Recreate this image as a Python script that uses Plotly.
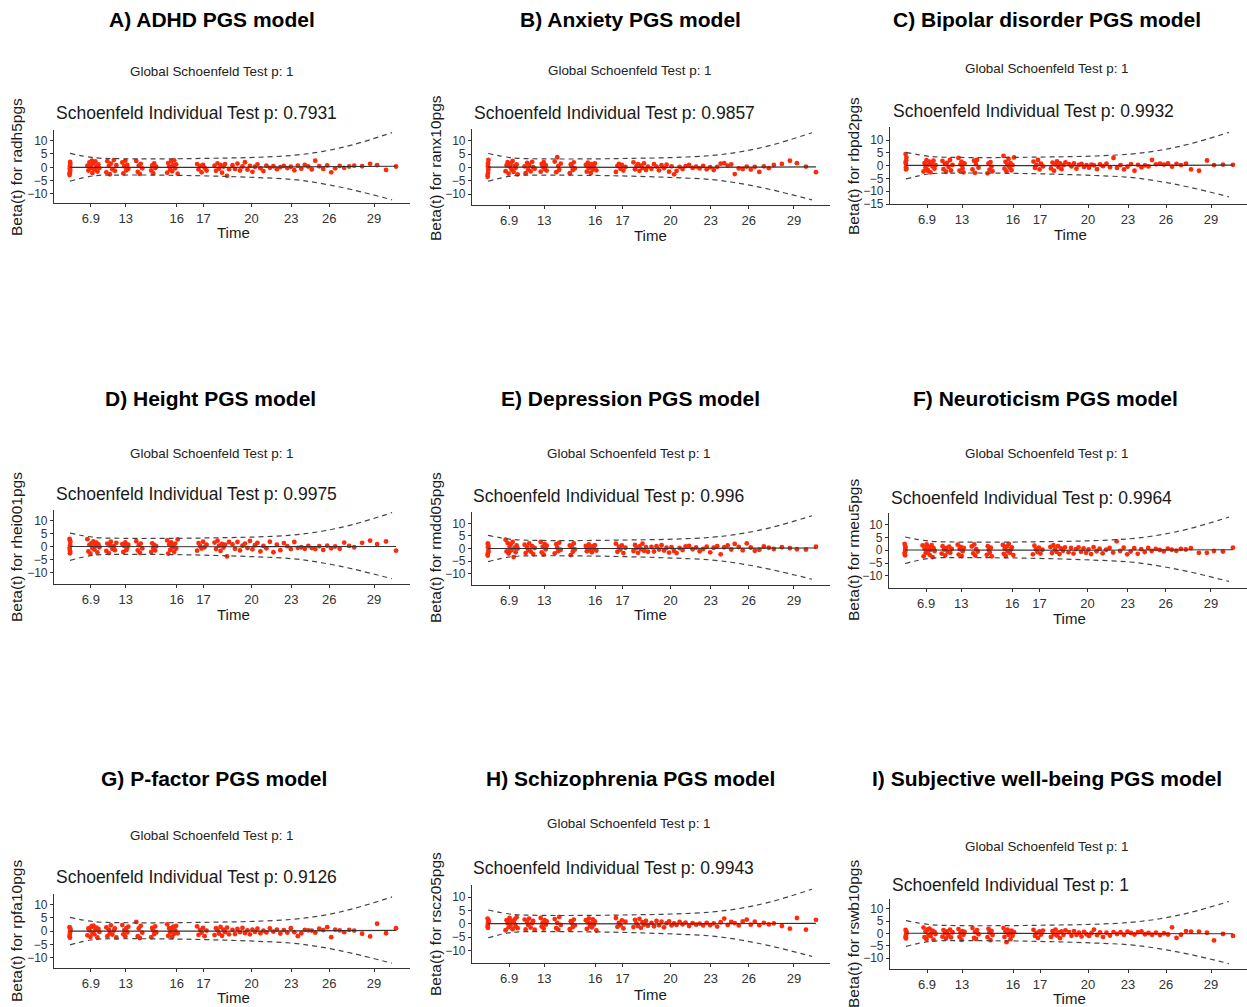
import plotly.graph_objects as go

W, H = 1247, 1007
H_MAP = 1000  # vertical pixel scale used to place items (rendered paper height)

# ---- shared axis data (transformed time scale used by the x axis) ----
tick_u = [37, 72, 123, 150, 198, 238, 276, 321]
tick_labels = ["6.9", "13", "16", "17", "20", "23", "26", "29"]

time_u = [
    15.6, 16.0, 16.4, 15.8, 16.2, 16.0, 15.7, 16.3,
    33.5, 34.5, 35.5, 36.5, 37.5, 38.5, 39.5, 40.5, 41.5, 42.5, 43.5, 44.5, 45.5, 38.0,
    52.5, 53.5, 55.0, 56.0, 57.0, 58.5, 60.0, 61.0, 62.5,
    68.5, 69.5, 70.5, 71.5, 72.5, 73.5, 74.5,
    82.5, 84.0, 85.0, 86.0, 87.0, 88.5,
    97.5, 98.5, 99.5, 100.5, 101.5, 102.5,
    113.5, 114.5, 115.5, 116.5, 117.5, 118.5, 119.5, 120.5, 121.5, 122.5, 124.0,
    143.5, 145.0, 146.5, 148.0, 149.5, 151.0, 153.0,
    161.0, 162.5, 164.0, 165.5, 167.0, 168.5, 170.0, 171.5, 173.5, 175.5,
    179, 181.5, 184, 186.5, 189, 191.5, 194, 196.5, 199, 201.5, 204, 207, 210, 213,
    216.5, 220, 223.5, 227, 230.5, 234, 237.5, 241, 244.5, 248, 251.5, 255, 258.5,
    262, 266, 270, 274, 278, 282, 286.5, 291, 296, 301, 309, 317, 324, 333, 343,
]

# confidence band (dashed) and fitted beta(t) line
ci_u = [16, 40, 70, 120, 160, 200, 240, 270, 300, 339]
ci_upper = [5.2, 3.6, 3.2, 3.2, 3.4, 3.7, 4.5, 6.0, 8.5, 13.0]
ci_lower = [-5.2, -3.2, -2.9, -3.0, -3.3, -3.8, -4.6, -6.2, -8.5, -12.2]
beta_u = [16, 180, 343]

# ---- per-panel residual values ----
res_radh5pgs = [
    -2.9, -1.8, 1.2, -0.6, 2.0, 0.4, -2.2, -1.0,
    0.6, -1.2, 1.8, -0.4, 0.9, -2.1, 1.5, -0.8, 2.2, 0.2, -1.6, 1.1, -0.3, 2.5,
    -1.9, 2.3, 0.5, -2.6, 1.4, -0.7, 2.7, -1.3, 0.8,
    1.8, -2.3, 0.4, 2.5, -1.1, 0.9, -0.5,
    2.4, -1.7, 0.6, -2.5, 1.3, -0.4,
    -1.2, 0.7, -2.2, 1.5, -0.3, 0.2,
    -2.0, 1.6, 0.3, -0.9, 2.3, -1.5, 0.8, 2.6, -0.4, 1.1, -2.4,
    1.2, -0.8, 0.5, -1.9, 0.9, -0.2, -1.2,
    0.6, -1.3, 1.5, -0.5, 0.9, -2.0, 0.3, 1.2, -3.2, -0.7,
    0.8, -0.6, 1.4, -1.2, 0.3, 1.9, -0.9, 0.5, -1.7, 0.2, 1.1, -0.4, -1.4, 0.6,
    -0.2, 0.4, -0.7, 0.1, 0.5, -0.3, 0.2, -1.1, 0.6, -0.5, 0.9, 0.3, -0.8,
    2.5, 0.4, -0.6, 0.7, -1.9, -0.4, 0.5, -0.2, 0.3, 0.6, 0.4, 1.3, 0.8, -1.0, 0.3,
]
res_ranx10pgs = [
    -3.5, -2.1, 2.8, 0.5, -0.9, 1.6, -2.8, 0.0,
    -1.4, 0.8, 2.0, -2.3, 0.3, 1.4, -0.9, 2.4, -1.7, 0.6, -0.2, 1.1, -2.6, 0.9,
    0.4, -2.2, 1.7, -0.8, 0.9, -1.5, 2.1, 0.1, -0.5,
    -1.6, 1.3, 0.2, 2.0, -0.7, 0.8, -1.2,
    2.2, -1.8, 3.8, 0.5, -0.9, 1.4,
    -2.2, 1.1, 0.3, -1.0, 1.9, -0.4,
    0.9, -1.6, 1.8, -0.3, 0.5, -2.1, 1.2, -0.8, 0.2, 1.5, -1.1,
    -1.7, 0.6, 1.3, -0.5, 0.9, -1.2, 0.2,
    1.9, -0.7, 0.4, 1.2, -1.3, 0.7, -0.2, 1.5, -1.0, 0.3,
    -0.5, 1.2, 0.3, -1.1, 0.8, -0.3, 1.0, -1.6, 0.4, -2.6, -1.3, 0.2, -0.6, 0.5,
    0.9, -0.2, 0.3, -0.4, 0.6, -0.7, 0.1, -1.0, 0.2, 1.4, 1.6, 0.7, 1.1,
    -2.5, -0.4, -0.6, 0.3, -0.8, 0.2, -1.7, 0.4, -0.3, 0.9, 1.3, 2.5, 1.6, 0.3, -1.8,
]
res_rbpd2pgs = [
    4.5, -1.5, 3.2, 0.8, 2.0, -0.6, 1.4, -1.2,
    -2.3, 1.0, -0.8, 2.1, -1.7, 0.4, 1.6, -2.6, 0.7, -0.3, 1.9, -1.2, 0.2, -2.0,
    1.8, -1.4, 0.6, -2.4, 1.1, -0.5, 2.2, -1.9, 0.3,
    3.0, -2.0, 0.5, 1.6, -1.0, -2.6, 0.9,
    -1.5, 1.9, -2.8, 0.6, 2.2, -0.8,
    -3.0, 0.9, -1.6, 1.4, -0.4, -2.2,
    3.8, -1.2, 1.5, -2.3, 0.4, 2.6, -0.7, 1.0, -1.8, 0.2, 3.2,
    1.6, -0.9, 0.3, 2.2, -1.5, 0.8, -0.3,
    -1.1, 1.2, -2.0, 0.5, 1.7, -0.6, 0.9, -1.4, 0.2, 1.3,
    0.6, -0.3, 0.9, -1.2, 0.3, 0.7, -0.5, 0.2, -0.8, 0.4, 0.1, -1.4, 0.5, -0.2,
    0.8, -0.6, 3.0, -0.9, 0.2, -1.5, -0.4, 0.6, -2.0, 0.3, -0.7, 0.1, -0.3,
    2.2, 0.5, 0.8, 0.4, 0.9, -0.4, 0.7, 0.2, 0.8, -1.5, -2.0, 2.0, 0.2, 0.4, 0.3,
]
res_rhei001pgs = [
    3.0, -2.5, 1.8, -1.2, 0.6, 2.4, -0.4, -1.9,
    2.9, -1.8, 0.7, -2.6, 1.3, -0.5, 2.0, -1.1, 0.3, 1.6, -2.2, 0.9, -0.2, 1.2,
    -1.6, 1.2, -2.4, 0.5, 1.9, -0.8, 0.2, -1.3, 1.5,
    1.0, -2.0, 0.3, 1.7, -1.3, -0.4, 0.8,
    2.1, -1.4, 0.6, -2.3, 1.2, -0.6,
    -2.0, 1.3, -0.5, 0.7, -1.4, 0.2,
    2.4, -2.6, 0.9, -1.2, 1.7, -0.3, 0.5, -2.0, 1.2, -0.7, 2.8,
    -1.5, 1.4, 0.3, -0.7, 1.9, -0.2, 0.8,
    1.6, -0.9, 2.3, 0.4, -1.6, 1.1, -0.3, 0.8, -3.7, 1.8,
    0.9, -0.8, 1.8, -1.4, 0.4, 1.2, -0.5, 2.2, -1.0, 0.6, 1.5, -1.8, 0.3, -0.6,
    1.9, -2.1, 0.8, -1.3, 1.4, 0.2, -0.9, 1.8, -0.4, -0.2, -0.8, 0.3, -0.5,
    -0.9, 0.2, -1.2, 0.4, -0.6, 0.1, -0.8, 1.6, 0.3, -0.2, 1.5, 2.3, 1.0, 2.0, -1.5,
]
res_rmdd05pgs = [
    -2.2, 1.4, -0.8, 2.0, -1.6, 0.5, -2.8, 1.0,
    3.5, -1.2, 2.2, -2.0, 0.8, 1.6, -0.6, 2.6, -3.4, 0.3, -1.5, 1.2, 0.0, -0.9,
    1.5, -1.8, 0.4, -0.6, 2.0, -1.2, 0.9, -2.2, 0.2,
    2.6, -1.5, 0.7, -2.4, 1.8, -0.3, 1.1,
    -1.9, 1.7, 0.3, -1.0, 2.3, -0.5,
    1.2, -2.6, 0.5, -1.3, 2.0, -0.4,
    1.0, -1.1, 0.4, 1.6, -0.6, 0.2, -1.5, 0.9, -0.2, 1.3, -0.8,
    1.9, -1.3, 0.7, -0.4, 1.2, -1.8, 0.3,
    -1.0, 1.4, 0.2, -1.7, 0.8, -0.3, 1.9, -0.9, 0.5, -1.3,
    0.6, -1.2, 0.9, -0.4, 1.3, -0.8, 0.3, -1.6, 0.5, -1.0, -1.8, 0.2, -0.6, 0.8,
    1.0, -0.3, 0.4, -1.1, -0.2, 0.7, -1.5, 0.3, 0.9, -2.3, 0.5, 1.2, -0.4,
    1.8, 0.6, -0.7, 2.0, 0.4, -0.9, -0.5, 0.8, 0.3, -0.2, 0.5, 0.1, -0.3, -0.4, 0.7,
]
res_rmeu5pgs = [
    2.5, -2.0, 1.2, -0.8, 0.4, 1.8, -1.4, -0.2,
    1.9, -2.4, 0.6, -1.1, 2.3, -0.5, 1.3, -1.8, 0.2, 2.0, -2.7, 0.8, -0.3, 1.0,
    -1.3, 1.6, 0.3, -2.0, 0.9, -0.6, 1.4, -1.0, 0.5,
    2.2, -1.7, 0.5, 1.3, -2.3, -0.4, 0.9,
    1.5, -1.2, 2.3, -2.1, 0.4, -0.5,
    -1.8, 1.6, 0.2, -0.9, 1.0, -2.4,
    2.1, -1.4, 0.6, -2.3, 1.5, -0.4, 2.5, -1.0, 0.3, 1.1, -1.9,
    -1.6, 1.8, 0.4, -0.7, 1.0, -1.3, 0.2,
    1.3, -1.1, 2.0, 0.3, -0.6, 1.6, -1.5, 0.7, -0.2, 1.1,
    -0.8, 0.9, -1.3, 0.4, 1.1, -0.6, 0.7, -1.0, 0.3, -1.5, 1.2, -0.4, 0.6, -1.2,
    0.2, 0.9, -0.9, 3.5, -0.3, 1.0, -1.6, -0.5, 0.8, -1.4, 0.4, -0.7, 0.9,
    -0.3, 0.5, 0.1, -0.4, 0.6, 0.2, -0.2, 0.5, 0.3, 0.8, -1.0, -1.0, -0.3, -0.5, 1.0,
]
res_rpfa10pgs = [
    1.5, -2.5, 0.6, -1.4, 1.0, -0.6, -2.0, 0.2,
    -1.6, 1.0, 0.3, -2.2, 1.6, -0.7, 2.1, -1.2, 0.5, 1.3, -2.4, 0.8, -0.3, 1.9,
    1.4, -1.9, 0.6, -0.8, 2.2, -1.3, 0.2, 1.0, -2.4,
    2.3, -1.2, 0.4, -2.0, 1.1, -0.5, 1.7,
    3.5, -1.9, 1.0, -2.6, 2.0, -0.6,
    -2.3, 1.2, 0.3, -1.1, 1.8, -0.5,
    2.6, -1.8, 1.1, -0.5, 0.7, -2.2, 1.7, -1.0, 0.3, 2.0, -0.8,
    1.8, -1.4, 0.5, -0.6, 1.2, -1.9, 0.2,
    -1.5, 1.1, 0.3, -0.9, 1.6, -1.8, 0.6, -0.4, 1.3, -1.2,
    0.5, -1.1, 0.8, -0.4, 1.2, -0.7, 0.3, -1.2, 0.6, -0.3, 0.9, -0.8, 0.2, -0.5,
    1.0, -0.2, 0.6, -0.9, 0.4, -0.6, 1.1, -0.4, -1.9, -0.8, 0.5, 0.3, 0.2,
    -0.6, 0.9, 0.4, 1.5, -2.3, 0.6, 0.3, -0.4, 0.5, 0.2, -1.0, -2.0, 2.8, -0.8, 1.1,
]
res_rscz05pgs = [
    2.0, -1.5, 0.8, -0.6, 1.5, 0.2, -1.2, 1.0,
    -2.4, 1.4, 0.3, -1.3, 2.2, -0.6, 1.0, -2.0, 0.6, 1.7, -0.9, 2.5, -1.6, 0.1,
    1.6, -2.1, 0.7, -0.4, 2.0, -1.4, 0.3, 1.1, -2.2,
    2.2, -1.0, 0.5, -1.8, 1.4, -0.3, 0.9,
    1.8, -1.6, 0.4, -2.2, 2.6, -0.4,
    -2.0, 1.0, 0.3, -1.2, 1.6, -0.6,
    1.4, -1.9, 0.6, 2.1, -0.8, 0.2, -1.3, 1.7, -0.3, 0.9, -2.5,
    2.2, -1.1, 0.4, -0.5, 1.3, -1.7, 0.8,
    -1.2, 1.5, 0.2, -0.8, 1.9, -1.5, 0.6, -0.3, 1.1, -0.7,
    0.4, -0.9, 1.1, -0.5, 0.8, -1.3, 0.3, 0.9, -0.6, 0.2, -0.4, 0.7, -0.2, 0.5,
    -0.8, 0.3, -0.3, 0.1, -0.6, 0.4, -0.5, 0.2, -1.0, 0.6, 2.0, -0.4, 0.7,
    0.3, -0.6, 0.9, 1.6, -0.3, 0.8, -0.5, 0.4, -0.2, 0.2, -0.8, -1.8, 2.2, -2.2, 1.5,
]
res_rswb10pgs = [
    1.5, -2.0, 0.6, -1.2, 0.9, -0.5, -1.6, 0.2,
    2.4, -1.5, 0.8, -2.3, 1.5, -0.6, 2.0, -1.1, 0.3, 1.2, -2.5, 0.7, -0.2, 1.7,
    -1.3, 1.4, 0.2, -2.0, 0.9, -0.7, 1.6, -1.6, 0.5,
    1.8, -1.4, 0.3, -2.6, 1.0, -0.5, 0.7,
    2.2, -1.8, 0.6, -2.2, 1.4, -0.3,
    -1.5, 1.9, 0.4, -2.7, 1.1, -0.6,
    2.2, -1.4, 0.8, -3.5, 1.6, -0.5, 0.3, -2.3, 1.2, -0.9, 0.5,
    1.5, -1.0, 0.2, -1.8, 0.9, -0.4, 1.2,
    -1.4, 1.0, -0.3, 1.6, -0.8, 0.4, -1.9, 0.9, -0.5, 1.3,
    0.5, -0.9, 1.0, -0.5, 0.3, -1.2, 0.7, -0.3, -1.0, 0.2, 1.6, -0.6, 0.4, -1.4,
    0.3, -0.8, 0.6, -0.2, 0.5, -0.5, 0.8, 0.2, -0.4, 0.6, 0.9, -0.3, 0.2,
    -0.5, 0.3, -0.6, 0.1, -0.4, 2.5, -1.8, -0.5, 1.0, 0.8, 0.8, 0.3, -2.8, -0.2, -1.0,
]

panel_titles = [
    "A) ADHD PGS model", "B) Anxiety PGS model", "C) Bipolar disorder PGS model",
    "D) Height PGS model", "E) Depression PGS model", "F) Neuroticism PGS model",
    "G) P-factor PGS model", "H) Schizophrenia PGS model", "I) Subjective well-being PGS model",
]
variables = ["radh5pgs", "ranx10pgs", "rbpd2pgs", "rhei001pgs", "rmdd05pgs",
             "rmeu5pgs", "rpfa10pgs", "rscz05pgs", "rswb10pgs"]
individual_p = ["0.7931", "0.9857", "0.9932", "0.9975", "0.996",
                "0.9964", "0.9126", "0.9943", "1"]
global_p = ["1"] * 9
residuals = [res_radh5pgs, res_ranx10pgs, res_rbpd2pgs, res_rhei001pgs, res_rmdd05pgs,
             res_rmeu5pgs, res_rpfa10pgs, res_rscz05pgs, res_rswb10pgs]
beta_vals = [
    [0.0, 0.0, 0.4], [0.1, 0.0, 0.2], [0.1, 0.0, 0.2],
    [0.1, 0.0, 0.1], [0.0, 0.0, 0.2], [0.1, 0.0, 0.2],
    [0.0, 0.0, 0.3], [0.1, 0.0, 0.2], [0.1, 0.0, -0.1],
]
y_ranges = [
    [-13.4, 14.0], [-14.1, 14.4], [-15.0, 15.1],
    [-14.2, 14.0], [-14.5, 14.5], [-14.8, 14.6],
    [-14.0, 14.1], [-14.7, 14.6], [-14.4, 14.0],
]
y_ticks = [[-10, -5, 0, 5, 10]] * 2 + [[-15, -10, -5, 0, 5, 10]] + [[-10, -5, 0, 5, 10]] * 6

# ---- layout geometry (pixels) ----
# plot box: x0, x1, ytop, ybottom
boxes = [
    (54, 410, 130, 203), (472, 830, 129, 205), (890, 1247, 127, 204),
    (54, 410, 510, 584), (472, 830, 512, 585), (889, 1247, 513, 588),
    (54, 410, 894, 968), (472, 830, 885, 963), (890, 1247, 899, 969),
]
# title, global, individual(left), ytitle, time positions
pos = [
    dict(t=(212, 19), g=(212, 72), i=(55, 113), yt=(16, 167), tm=(233, 233)),
    dict(t=(630, 19), g=(630, 70), i=(473, 113), yt=(435, 168), tm=(651, 235)),
    dict(t=(1047, 19), g=(1047, 68), i=(892, 111), yt=(853, 166), tm=(1070, 234)),
    dict(t=(210, 398), g=(212, 453), i=(55, 494), yt=(16, 547), tm=(233, 614)),
    dict(t=(630, 398), g=(629, 454), i=(472, 496), yt=(435, 548), tm=(651, 614)),
    dict(t=(1045, 398), g=(1047, 454), i=(890, 498), yt=(853, 550), tm=(1069, 618)),
    dict(t=(214, 778), g=(212, 835), i=(55, 877), yt=(16, 931), tm=(233, 997)),
    dict(t=(630, 778), g=(629, 823), i=(472, 868), yt=(435, 924), tm=(651, 994)),
    dict(t=(1047, 778), g=(1047, 846), i=(891, 885), yt=(853, 934), tm=(1069, 998)),
]

FONT = "Liberation Sans, Arial, Helvetica, sans-serif"
fig = go.Figure()
annotations = []
layout_axes = {}


def fy(y_px):
    return 1 - y_px / H_MAP


def ann(xy, text, size, color="#1a1a1a", xanchor="center", angle=0):
    return dict(x=xy[0] / W, y=fy(xy[1]), xref="paper", yref="paper",
                text=text, showarrow=False, xanchor=xanchor, yanchor="middle",
                textangle=angle, borderpad=0,
                font=dict(family=FONT, size=size, color=color))


def tick_text(v):
    return str(v).replace("-", "\u2212")


for k in range(9):
    n = "" if k == 0 else str(k + 1)
    xref, yref = "x" + n, "y" + n
    x0, x1, yt, yb = boxes[k]

    fig.add_trace(go.Scatter(x=time_u, y=residuals[k], mode="markers", xaxis=xref, yaxis=yref,
                             marker=dict(color="#FF2A0A", size=4.8, line=dict(width=0)),
                             hoverinfo="skip"))
    fig.add_trace(go.Scatter(x=ci_u, y=ci_upper, mode="lines", xaxis=xref, yaxis=yref,
                             line=dict(color="#444444", width=1.2, dash="5px,4px", shape="spline"),
                             hoverinfo="skip"))
    fig.add_trace(go.Scatter(x=ci_u, y=ci_lower, mode="lines", xaxis=xref, yaxis=yref,
                             line=dict(color="#444444", width=1.2, dash="5px,4px", shape="spline"),
                             hoverinfo="skip"))
    fig.add_trace(go.Scatter(x=beta_u, y=beta_vals[k], mode="lines", xaxis=xref, yaxis=yref,
                             line=dict(color="#333333", width=1.2, shape="spline"),
                             hoverinfo="skip"))

    layout_axes["xaxis" + n] = dict(
        domain=[x0 / W, min(x1 / W, 1.0)], range=[0, 357], anchor=yref,
        tickmode="array", tickvals=tick_u, ticktext=tick_labels,
        showline=True, linecolor="#333333", linewidth=1.2,
        ticks="outside", ticklen=3, tickcolor="#333333", tickwidth=1,
        showgrid=False, zeroline=False, fixedrange=True,
        tickfont=dict(family=FONT, size=13, color="#333333"))
    layout_axes["yaxis" + n] = dict(
        domain=[fy(yb), fy(yt)], range=y_ranges[k], anchor=xref,
        tickmode="array", tickvals=y_ticks[k],
        ticktext=[tick_text(v) for v in y_ticks[k]],
        showline=True, linecolor="#333333", linewidth=1.2,
        ticks="outside", ticklen=3, tickcolor="#333333", tickwidth=1,
        showgrid=False, zeroline=False, fixedrange=True,
        tickfont=dict(family=FONT, size=12, color="#333333"))

    p = pos[k]
    annotations.append(ann(p["t"], "<b>" + panel_titles[k] + "</b>", 21, color="#000000"))
    annotations.append(ann(p["g"], "Global Schoenfeld Test p: " + global_p[k], 13.4, color="#222222"))
    annotations.append(ann(p["i"], "Schoenfeld Individual Test p: " + individual_p[k], 17.5,
                           color="#1a1a1a", xanchor="left"))
    annotations.append(ann(p["yt"], "Beta(t) for " + variables[k], 15.5, color="#1a1a1a", angle=-90))
    annotations.append(ann(p["tm"], "Time", 15, color="#1a1a1a"))

fig.update_layout(
    width=W, height=H, autosize=False,
    margin=dict(l=0, r=0, t=0, b=0),
    paper_bgcolor="white", plot_bgcolor="white",
    showlegend=False, annotations=annotations,
    **layout_axes,
)

fig.write_html("out.html", config={"displayModeBar": False})
